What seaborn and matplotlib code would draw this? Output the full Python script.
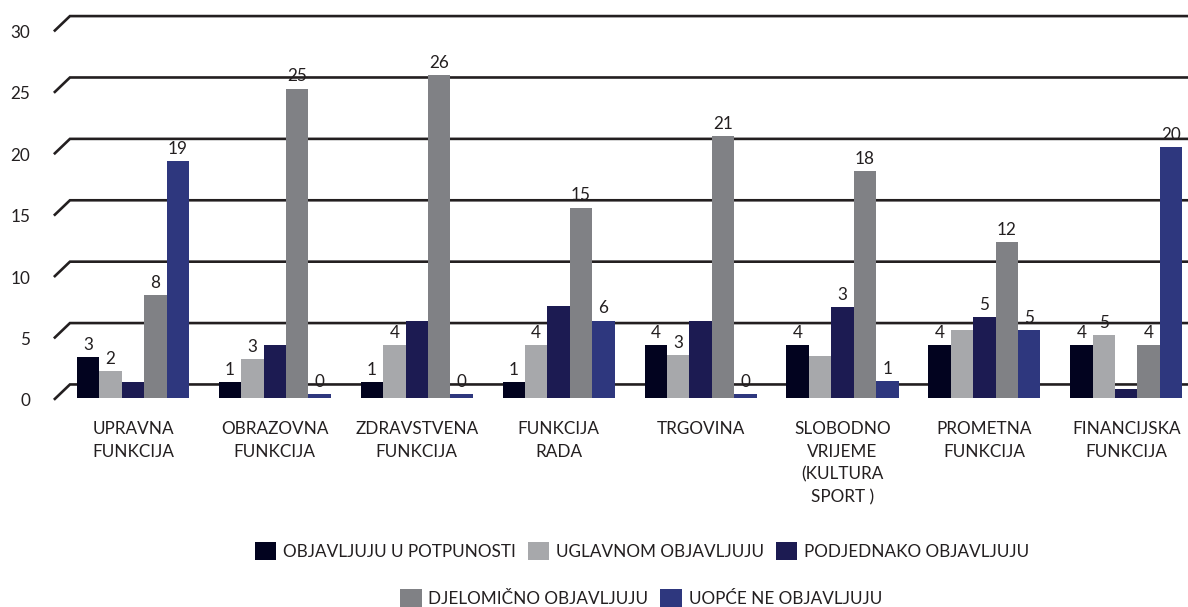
import numpy as np
import pandas as pd
import matplotlib
matplotlib.use("Agg")
import matplotlib.pyplot as plt
import seaborn as sns
from matplotlib.patches import Patch

# ---------------- data ----------------
categories = [
    "UPRAVNA\nFUNKCIJA",
    "OBRAZOVNA\nFUNKCIJA",
    "ZDRAVSTVENA\nFUNKCIJA",
    "FUNKCIJA\nRADA",
    "TRGOVINA",
    "SLOBODNO\nVRIJEME\n(KULTURA\nSPORT )",
    "PROMETNA\nFUNKCIJA",
    "FINANCIJSKA\nFUNKCIJA",
]
series_names = [
    "OBJAVLJUJU U POTPUNOSTI",
    "UGLAVNOM OBJAVLJUJU",
    "PODJEDNAKO OBJAVLJUJU",
    "DJELOMIČNO OBJAVLJUJU",
    "UOPĆE NE OBJAVLJUJU",
]
potpunosti = [3.0, 1.0, 1.0, 1.0, 4.0, 4.0, 4.0, 4.0]
uglavnom = [1.9, 2.9, 4.0, 4.0, 3.2, 3.1, 5.2, 4.8]
podjednako = [1.0, 4.0, 6.0, 7.2, 6.0, 7.1, 6.3, 0.4]
djelomicno = [8.1, 24.9, 26.0, 15.2, 21.0, 18.2, 12.4, 4.0]
uopce = [19.0, 0.0, 0.0, 6.0, 0.0, 1.1, 5.2, 20.1]

labels_potpunosti = ["3", "1", "1", "1", "4", "4", "4", "4"]
labels_uglavnom = ["2", "3", "4", "4", "3", "", "", "5"]
labels_podjednako = ["", "", "", "", "", "3", "5", ""]
labels_djelomicno = ["8", "25", "26", "15", "21", "18", "12", "4"]
labels_uopce = ["19", "0", "0", "6", "0", "1", "5", "20"]

y_ticks = [0, 5, 10, 15, 20, 25, 30]

# ---------------- style ----------------
colors = ["#02031f", "#a7a8ab", "#1c1b52", "#808185", "#2e377e"]
TEXT = "#231f20"
GRID = "#231f20"
FS = 12.3

sns.set_style("white")
plt.rcParams["font.family"] = ["Lato", "DejaVu Sans"]

series_values = [potpunosti, uglavnom, podjednako, djelomicno, uopce]
series_labels = [labels_potpunosti, labels_uglavnom, labels_podjednako,
                 labels_djelomicno, labels_uopce]

rows = []
for name, vals in zip(series_names, series_values):
    for cat, v in zip(categories, vals):
        rows.append({"kategorija": cat, "serija": name, "vrijednost": v})
df = pd.DataFrame(rows)

fig = plt.figure(figsize=(11.88, 6.07), dpi=100)
ax = fig.add_axes([40 / 1188, 197 / 607, 1148 / 1188, 410 / 607])

sns.barplot(data=df, x="kategorija", y="vrijednost", hue="serija",
            order=categories, hue_order=series_names, palette=colors,
            width=0.79, saturation=1, errorbar=None, legend=False, ax=ax,
            zorder=3, linewidth=0, edgecolor="none")

# floor slab (3D look): every bar starts slightly below zero
BASE = -0.3
for p in ax.patches:
    h = p.get_height()
    p.set_y(BASE)
    p.set_height(h - BASE)
    p.set_linewidth(0)

XMIN, XMAX = -0.655, 7.435
ax.set_xlim(XMIN, XMAX)
ax.set_ylim(-1.28, 32.11)

# pseudo-3D gridlines
GX0, GX1 = -0.557, -0.444
FRONT, BACK = -0.45, 0.8
for t in y_ticks:
    ax.plot([GX0, GX1, XMAX], [t + FRONT, t + BACK, t + BACK], color=GRID,
            lw=1.9, solid_capstyle="butt", solid_joinstyle="miter",
            zorder=1, clip_on=False)

ax.set_yticks([t + FRONT for t in y_ticks], labels=[str(t) for t in y_ticks])
ax.set_xticks(range(len(categories)), labels=categories)
ax.tick_params(axis="y", length=0, pad=7, labelsize=FS, colors=TEXT)
ax.tick_params(axis="x", length=0, pad=8, labelsize=FS, colors=TEXT)
for lbl in ax.get_xticklabels():
    lbl.set_linespacing(1.5)
ax.set_xlabel("")
ax.set_ylabel("")
for s in ax.spines.values():
    s.set_visible(False)
ax.grid(False)

for cont, labs in zip(ax.containers, series_labels):
    ax.bar_label(cont, labels=labs, padding=3, fontsize=FS, color=TEXT)

# legend in two centered rows
handles = [Patch(facecolor=c, edgecolor="none") for c in colors]
common = dict(loc="center", frameon=False, fontsize=FS, handlelength=1.25,
              handleheight=1.25, handletextpad=0.4, columnspacing=0.7,
              borderpad=0, borderaxespad=0, labelcolor=TEXT)
fig.legend(handles[:3], series_names[:3], ncol=3,
           bbox_to_anchor=(642 / 1188, 1 - 551 / 607), **common)
fig.legend(handles[3:], series_names[3:], ncol=2,
           bbox_to_anchor=(641 / 1188, 1 - 598 / 607), **common)

fig.savefig("out.png", dpi=100)
